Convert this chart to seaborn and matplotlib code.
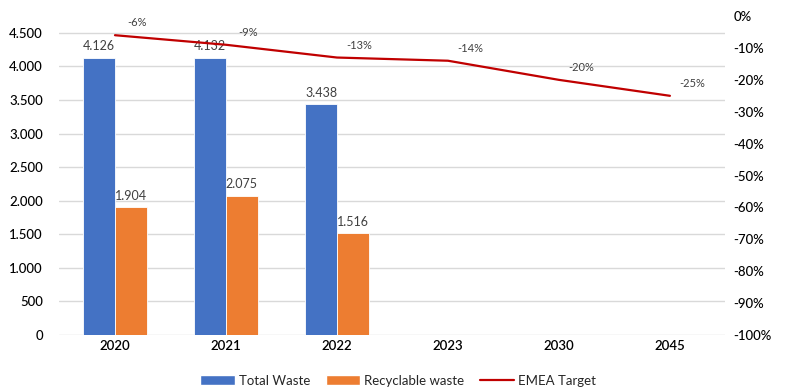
import matplotlib
matplotlib.use("Agg")
import matplotlib.pyplot as plt
from matplotlib.patches import Patch
from matplotlib.lines import Line2D
import numpy as np
import pandas as pd
import seaborn as sns

years = ["2020", "2021", "2022", "2023", "2030", "2045"]
total_waste = [4126, 4132, 3438, None, None, None]
recyclable_waste = [1904, 2075, 1516, None, None, None]
emea_target = [-6, -9, -13, -14, -20, -25]

left_ticks = [0, 500, 1000, 1500, 2000, 2500, 3000, 3500, 4000, 4500]
right_ticks = [0, -10, -20, -30, -40, -50, -60, -70, -80, -90, -100]

BLUE = "#4472C4"
ORANGE = "#ED7D31"
RED = "#C00000"
TXT = "#404040"

sns.set_theme(style="white")
plt.rcParams["font.family"] = ["Lato", "DejaVu Sans"]

rows = []
for y, t, r in zip(years, total_waste, recyclable_waste):
    rows.append({"year": y, "series": "Total Waste", "value": t})
    rows.append({"year": y, "series": "Recyclable waste", "value": r})
df = pd.DataFrame(rows)

fig = plt.figure(figsize=(7.89, 3.92), dpi=100)
ax = fig.add_axes([0.0754, 0.1454, 0.844, 0.8136])

sns.barplot(data=df, x="year", y="value", hue="series", order=years,
            hue_order=["Total Waste", "Recyclable waste"],
            palette=[BLUE, ORANGE], width=0.57, ax=ax, legend=False,
            saturation=1, errorbar=None, edgecolor="#FFFFFF", linewidth=0.6)

for cont in ax.containers:
    labels = []
    for bar in cont:
        h = bar.get_height()
        labels.append("" if not np.isfinite(h) or h == 0 else f"{int(round(h)):,}".replace(",", "."))
    ax.bar_label(cont, labels=labels, padding=4, fontsize=9, color=TXT)

ax.set_ylim(0, 4750)
ax.set_yticks(left_ticks)
ax.set_yticklabels([f"{v:,}".replace(",", ".") for v in left_ticks])
ax.yaxis.grid(True, color="#D9D9D9", linewidth=1)
ax.set_axisbelow(True)
ax.set_xlim(-0.5, len(years) - 0.5)
ax.set_xlabel("")
ax.set_ylabel("")
for s in ax.spines.values():
    s.set_visible(False)
ax.tick_params(axis="both", length=0, labelsize=9.5, colors="#000000")
ax.tick_params(axis="y", pad=12)
for lbl in ax.get_xticklabels():
    lbl.set_fontweight("semibold")
for lbl in ax.get_yticklabels():
    lbl.set_fontweight("medium")

ax2 = ax.twinx()
line_df = pd.DataFrame({"pos": np.arange(len(years)), "target": emea_target})
sns.lineplot(data=line_df, x="pos", y="target", color=RED, linewidth=1.6, ax=ax2)
for x, v in zip(line_df["pos"], emea_target):
    ax2.annotate(f"{v}%", (x, v), xytext=(16, 5), textcoords="offset points",
                 ha="center", va="bottom", fontsize=8, color=TXT)
ax2.set_ylim(-100, 0)
ax2.set_yticks(right_ticks)
ax2.set_yticklabels([f"{v}%" for v in right_ticks])
ax2.set_xlim(-0.5, len(years) - 0.5)
ax2.set_xlabel("")
ax2.set_ylabel("")
for s in ax2.spines.values():
    s.set_visible(False)
ax2.tick_params(axis="y", length=0, labelsize=9.5, colors="#000000", pad=6)
for lbl in ax2.get_yticklabels():
    lbl.set_fontweight("medium")

handles = [Patch(facecolor=BLUE), Patch(facecolor=ORANGE),
           Line2D([0], [0], color=RED, linewidth=1.6)]
fig.legend(handles, ["Total Waste", "Recyclable waste", "EMEA Target"],
           loc="center", bbox_to_anchor=(0.505, 0.028), ncol=3, frameon=False,
           fontsize=9.5, handlelength=2.6, handleheight=0.8, columnspacing=1.2,
           handletextpad=0.3)

fig.savefig("out.png", dpi=100)
